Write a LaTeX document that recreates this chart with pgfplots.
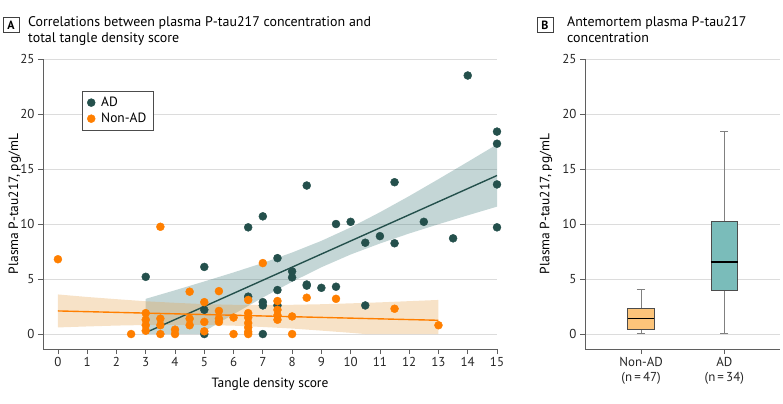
\documentclass[border=0pt]{standalone}
\usepackage{fontspec}
\setmainfont{PT Sans}
\usepackage{pgfplots}
\pgfplotsset{compat=1.18}
\usepgfplotslibrary{statistics}
\definecolor{addark}{RGB}{36,80,76}
\definecolor{nonad}{RGB}{255,127,0}
\definecolor{adband}{RGB}{60,120,120}
\definecolor{nonband}{RGB}{230,160,70}
\definecolor{boxorange}{RGB}{252,196,122}
\definecolor{boxteal}{RGB}{122,188,186}
\definecolor{gridgray}{RGB}{220,220,220}
\definecolor{axisgray}{RGB}{95,95,95}

\pgfplotsset{
  panel/.style={
    scale only axis, anchor=south west, height=290bp,
    axis x line=bottom, axis y line=left, axis line style={-, axisgray, line width=0.8pt},
    tick align=outside, major tick length=5bp, tick style={axisgray, line width=0.8pt},
    ymin=-1.36, ymax=25, ytick={0,5,...,25},
    ymajorgrids, major grid style={gridgray, line width=0.9pt},
    tick label style={font=\fontsize{13}{15}\selectfont, text=black!85},
    label style={font=\fontsize{13.5}{16}\selectfont},
    /pgf/number format/assume math mode=true,
  }
}

\begin{document}
\begin{tikzpicture}
\useasboundingbox (0,0) rectangle (783bp,-404bp);

% ---- panel A
\node[draw=black!75, line width=0.7pt, minimum width=16bp, minimum height=15bp, inner sep=0pt,
  font=\bfseries\fontsize{12}{14}\selectfont] at (11bp,-25bp) {A};
\node[anchor=north west, align=left, inner sep=0pt, font=\fontsize{14}{16}\selectfont]
  at (28bp,-16bp) {Correlations between plasma P-tau217 concentration and\\total tangle density score};

\begin{axis}[panel, at={(43bp,-349bp)}, width=454bp,
  xmin=-0.51, xmax=15, xtick={0,1,...,15},
  xlabel={Tangle density score}, ylabel={Plasma P-tau217, pg/mL},
  xlabel style={at={(axis description cs:0.5,-0.12)}, anchor=center},
  ylabel style={at={(axis description cs:-0.062,0.5)}, anchor=center},
  legend style={at={(axis description cs:0.086,0.89)}, anchor=north west, draw=black!70,
    font=\fontsize{13.5}{15}\selectfont, row sep=1bp, column sep=4bp,
    inner xsep=5bp, inner ysep=4bp},
  legend cell align=left,
]
% confidence bands
\addplot[draw=none, fill=adband, fill opacity=0.3, forget plot] coordinates {
  (3,3.20) (4,3.98) (5,4.78) (6,5.60) (7,6.46) (8,7.41) (9,8.47) (10,9.69)
  (11,11.07) (12,12.54) (13,14.08) (14,15.65) (15,17.24)
  (15,11.58) (14,10.79) (13,9.98) (12,9.14) (11,8.23) (10,7.23) (9,6.07)
  (8,4.75) (7,3.32) (6,1.80) (5,0.24) (4.85,0) (4,0) (3,0)} -- cycle;
\addplot[draw=none, fill=nonband, fill opacity=0.3, forget plot] coordinates {
  (0,3.60) (1,3.37) (2,3.17) (3,2.98) (4,2.84) (5,2.72) (6,2.66) (7,2.64)
  (8,2.66) (9,2.71) (10,2.79) (11,2.88) (12,2.99) (13,3.10)
  (13,0) (11,0) (10.5,0) (10,0.11) (9,0.31) (8,0.50) (7,0.64) (6,0.76)
  (5,0.82) (4,0.84) (3,0.82) (2,0.77) (1,0.69) (0,0.60)} -- cycle;
% regression lines
\addplot[addark, line width=1.4pt, forget plot] coordinates {(3,0.13) (15,14.41)};
\addplot[nonad, line width=1.4pt, forget plot] coordinates {(0,2.10) (13,1.25)};
% points
\addplot[only marks, mark=*, mark size=4bp, color=addark] coordinates {
  (3,5.2) (5,6.1) (5,2.2) (5,0) (6.5,9.7) (6.5,3.4) (7,10.7) (7,2.9) (7,2.6) (7,0)
  (7.5,6.9) (7.5,4.0) (7.5,2.6) (8,5.7) (8,5.15) (8.5,4.5) (8.5,4.4) (8.5,13.5)
  (9,4.2) (9.5,4.3) (9.5,10.0) (10,10.2) (10.5,8.3) (10.5,2.6) (11,8.9) (11.5,8.25)
  (11.5,13.8) (12.5,10.2) (13.5,8.7) (14,23.5) (15,18.4) (15,17.3) (15,13.6) (15,9.7)};
\addlegendentry{AD}
\addplot[only marks, mark=*, mark size=4bp, color=nonad] coordinates {
  (0,6.8) (2.5,0) (3,1.9) (3,1.3) (3,0.8) (3,0.3) (3.5,1.4) (3.5,0.8) (3.5,0) (3.5,9.75)
  (4,0.4) (4,0) (4.5,3.85) (4.5,1.4) (4.5,0.8) (5,2.9) (5,1.1) (5,0.25)
  (5.5,3.9) (5.5,2.1) (5.5,1.4) (5.5,1.1) (6,1.5) (6,0)
  (6.5,3.1) (6.5,1.9) (6.5,1.5) (6.5,1.0) (6.5,0.6) (6.5,0.2) (6.5,0)
  (7,6.45) (7.5,3.0) (7.5,2.2) (7.5,1.7) (7.5,1.3) (8,1.6) (8,0)
  (8.5,3.3) (9.5,3.2) (11.5,2.3) (13,0.8)};
\addlegendentry{Non-AD}
\end{axis}

% ---- panel B
\node[draw=black!75, line width=0.7pt, minimum width=16bp, minimum height=15bp, inner sep=0pt,
  font=\bfseries\fontsize{12}{14}\selectfont] at (545bp,-25bp) {B};
\node[anchor=north west, align=left, inner sep=0pt, font=\fontsize{14}{16}\selectfont]
  at (567bp,-16bp) {Antemortem plasma P-tau217\\concentration};

\begin{axis}[panel, at={(585bp,-349bp)}, width=195bp,
  xmin=0.325, xmax=2.67, xtick={1,2},
  xticklabels={{Non-AD\\(n\,=\,47)},{AD\\(n\,=\,34)}},
  xticklabel style={align=center},
  ylabel={Plasma P-tau217, pg/mL},
  ylabel style={at={(axis description cs:-0.2,0.5)}, anchor=center},
  boxplot/draw direction=y,
  boxplot/box extend=0.32, boxplot/whisker extend=0.1,
  boxplot/every median/.style={black, line width=1.3pt},
  boxplot/every whisker/.style={draw=black!50, line width=0.9pt},
  boxplot/every box/.style={draw=black!70, line width=0.8pt},
]
\addplot[fill=boxorange, boxplot prepared={draw position=1, lower whisker=0.05,
  lower quartile=0.45, median=1.42, upper quartile=2.33, upper whisker=4.02}]
  coordinates {};
\addplot[fill=boxteal, boxplot prepared={draw position=2, lower whisker=0.09,
  lower quartile=3.96, median=6.56, upper quartile=10.28, upper whisker=18.44}]
  coordinates {};
\end{axis}
\end{tikzpicture}
\end{document}
